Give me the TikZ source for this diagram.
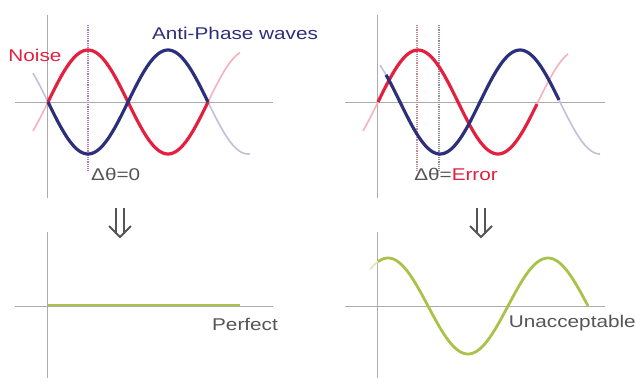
\documentclass[tikz,border=0pt]{standalone}
\usepackage{fontspec}
\setmainfont{Liberation Sans}
\definecolor{noisered}{HTML}{E4203E}
\definecolor{antiblue}{HTML}{2E2F7C}
\definecolor{resgreen}{HTML}{A9C24A}
\definecolor{txtgray}{HTML}{555555}
\tikzset{
  axis/.style={draw=gray!65, line width=0.8pt},
  noise/.style={draw=noisered, line width=3.2pt, smooth},
  anti/.style={draw=antiblue, line width=3.2pt, smooth},
  noisefade/.style={draw=noisered!35, line width=1.6pt, smooth},
  antifade/.style={draw=antiblue!30, line width=1.6pt, smooth},
  result/.style={draw=resgreen, line width=2.8pt, smooth},
  marker/.style={densely dotted, line width=1.2pt},
  lbl/.style={font=\fontsize{17}{17}\selectfont, text=txtgray, inner sep=0pt, xscale=1.22}
}
\begin{document}
\begin{tikzpicture}[x=1pt,y=-1pt]
\useasboundingbox[fill=white] (0,0) rectangle (636,381);
% axes
\draw[axis] (47,15) -- (47,198);
\draw[axis] (15,102) -- (273,102);
\draw[axis] (377,15) -- (377,198);
\draw[axis] (345,102) -- (605,102);
\draw[axis] (47,232) -- (47,378);
\draw[axis] (15,306) -- (273,306);
\draw[axis] (377,232) -- (377,378);
\draw[axis] (345,306) -- (605,306);
% phase markers
\draw[marker, draw=violet!55] (88,25) -- (88,172);
\draw[marker, draw=noisered!45!gray!70] (417,25) -- (417,172);
\draw[marker, draw=antiblue!45!gray!70] (439,25) -- (439,172);
% left: noise and anti-phase wave
\draw[noisefade] plot[domain=33:48, samples=10] (\x, {102-52*sin((\x-48)*2.25)});
\draw[noisefade] plot[domain=208:240, samples=20] (\x, {102-52*sin((\x-48)*2.25)});
\draw[antifade] plot[domain=33:48, samples=10] (\x, {102+52*sin((\x-48)*2.25)});
\draw[antifade] plot[domain=208:250, samples=20] (\x, {102+52*sin((\x-48)*2.25)});
\draw[noise] plot[domain=48:208, samples=80] (\x, {102-52*sin((\x-48)*2.25)});
\draw[anti] plot[domain=48:208, samples=80] (\x, {102+52*sin((\x-48)*2.25)});
% right: wave with phase error
\draw[noisefade] plot[domain=363:378, samples=10] (\x, {102-52*sin((\x-378)*2.25)});
\draw[noisefade] plot[domain=537:568, samples=20] (\x, {102-52*sin((\x-378)*2.25)});
\draw[antifade] plot[domain=380:386, samples=6] (\x, {102+52*sin((\x-400)*2.25)});
\draw[antifade] plot[domain=559:600, samples=20] (\x, {102+52*sin((\x-400)*2.25)});
\draw[noise] plot[domain=378:537, samples=80] (\x, {102-52*sin((\x-378)*2.25)});
\draw[anti] plot[domain=386:559, samples=80] (\x, {102+52*sin((\x-400)*2.25)});
% results
\draw[result] (48,305) -- (240,305);
\draw[draw=resgreen!40, line width=1.6pt, smooth] plot[domain=370:378, samples=6] (\x, {306-48*cos((\x-388)*2.25)});
\draw[result] plot[domain=378:588, samples=100] (\x, {306-48*cos((\x-388)*2.25)});
% arrows
\foreach \ax in {120,481} {
  \draw[txtgray, line width=2pt] (\ax-4,208) -- (\ax-4,234);
  \draw[txtgray, line width=2pt] (\ax+4,208) -- (\ax+4,234);
  \draw[txtgray, line width=2pt, line join=miter] (\ax-11,226) -- (\ax,237) -- (\ax+11,226);
}
% labels
\node[lbl, text=noisered] (noise) at (35,55) {Noise};
\node[lbl, text=antiblue] (anti) at (235,33) {Anti-Phase waves};
\node[lbl, anchor=west] (zero) at (91,174) {Δθ=0};
\node[lbl, anchor=west] (err) at (414,174) {Δθ=\textcolor{noisered}{Error}};
\node[lbl] (perfect) at (245,324) {Perfect};
\node[lbl, anchor=east] (bad) at (636,323) {Unacceptable};
\end{tikzpicture}
\end{document}
